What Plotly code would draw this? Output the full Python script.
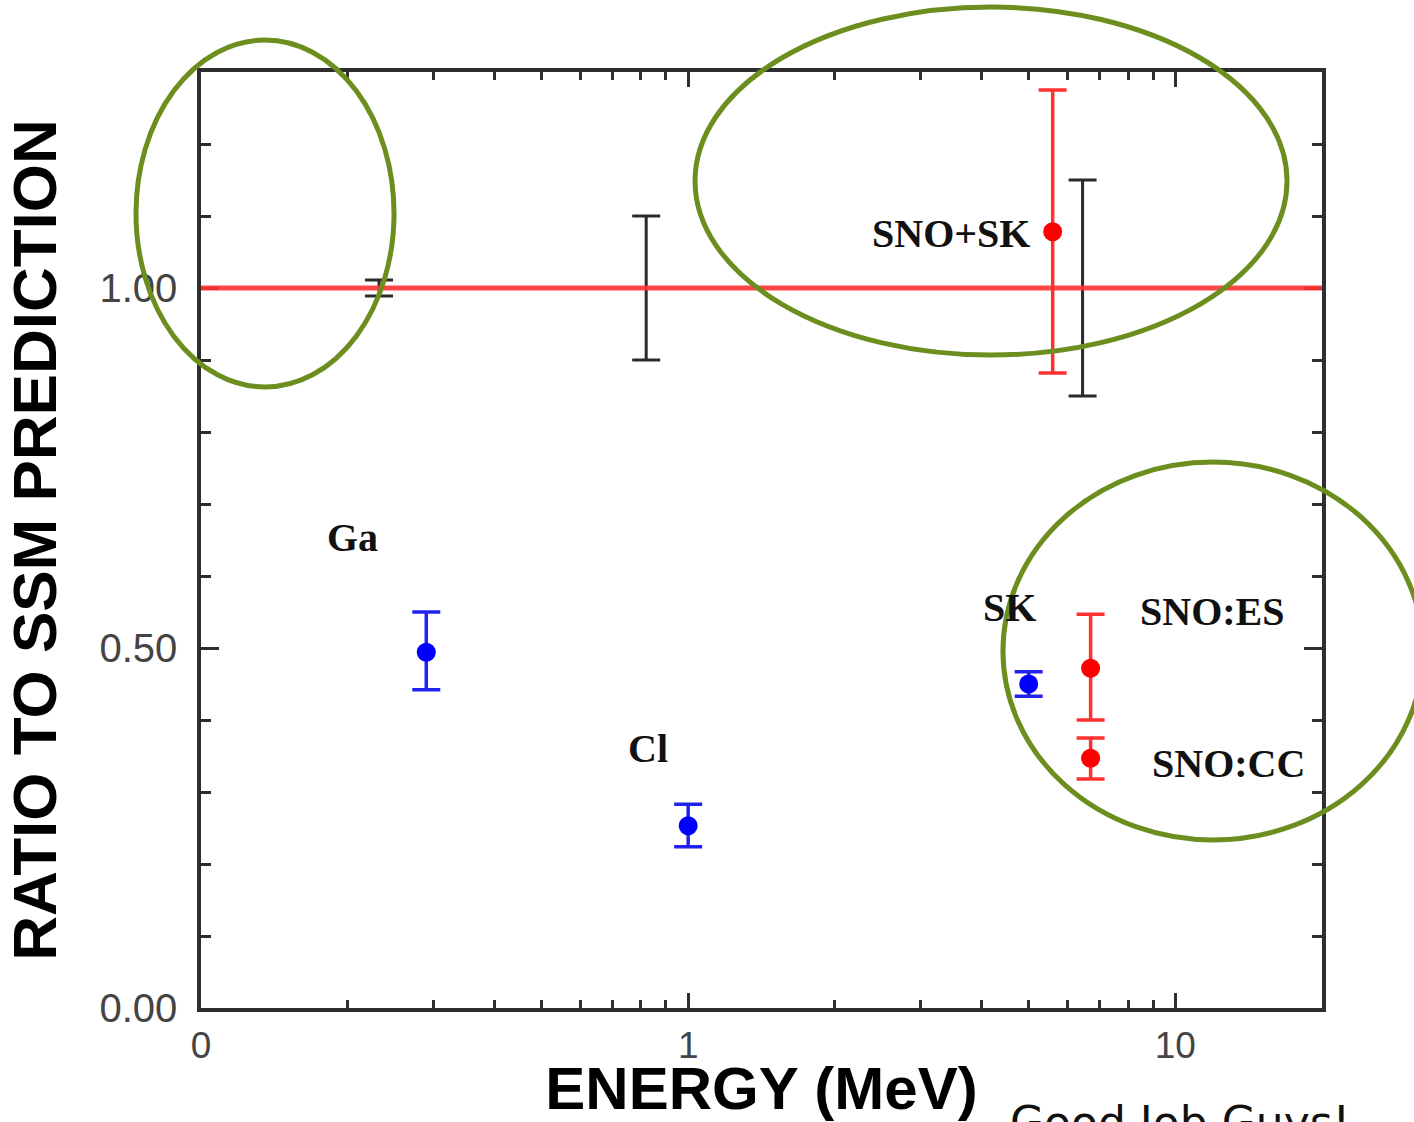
import numpy as np
import plotly.graph_objects as go

# ---- data ----
exp_names = ["Ga", "Cl", "SK"]
exp_energy = [0.29, 1.0, 5.0]
exp_ratio = [0.494, 0.253, 0.450]
exp_err_plus = [0.056, 0.030, 0.017]
exp_err_minus = [0.052, 0.029, 0.017]

sno_names = ["SNO+SK", "SNO:ES", "SNO:CC"]
sno_energy = [5.6, 6.7, 6.7]
sno_ratio = [1.078, 0.472, 0.347]
sno_err_plus = [0.197, 0.075, 0.028]
sno_err_minus = [0.196, 0.072, 0.029]

ssm_energy = [0.232, 0.82, 6.45]
ssm_ratio = [1.0, 1.0, 1.0]
ssm_err = [0.011, 0.10, 0.15]

x_tickvals = [0.1, 1, 10]
x_ticktext = ["0", "1", "10"]
x_minor_vals = [0.2, 0.3, 0.4, 0.5, 0.6, 0.7, 0.8, 0.9,
                2, 3, 4, 5, 6, 7, 8, 9]
y_tickvals = [0.0, 0.5, 1.0]
y_ticktext = ["0.00", "0.50", "1.00"]

# label anchors (energy, ratio)
label_text = ["Ga", "Cl", "SK", "SNO:ES", "SNO:CC", "SNO+SK"]
label_pos = [(0.205, 0.654), (0.828, 0.361), (4.56, 0.556), (11.9, 0.551), (12.85, 0.340), (3.47, 1.076)]

fig = go.Figure()

AX = "#2e2e2e"

fig.add_trace(go.Scatter(
    x=ssm_energy, y=ssm_ratio, mode="markers",
    marker=dict(size=1, color="rgba(0,0,0,0)"),
    error_y=dict(type="data", array=ssm_err, color="#2a2a2a", thickness=3, width=14),
    showlegend=False))

fig.add_trace(go.Scatter(
    x=exp_energy, y=exp_ratio, mode="markers",
    marker=dict(size=19, color="#0000ff"),
    error_y=dict(type="data", symmetric=False, array=exp_err_plus, arrayminus=exp_err_minus,
                 color="#2222ee", thickness=3.5, width=14),
    showlegend=False))

fig.add_trace(go.Scatter(
    x=sno_energy, y=sno_ratio, mode="markers",
    marker=dict(size=19, color="#ff0000"),
    error_y=dict(type="data", symmetric=False, array=sno_err_plus, arrayminus=sno_err_minus,
                 color="#ff3030", thickness=3.5, width=14),
    showlegend=False))

fig.add_shape(type="line", xref="paper", yref="y", x0=0, x1=1, y0=1.0, y1=1.0,
              line=dict(color="rgba(255,50,50,0.9)", width=5), layer="above")

for t, (lx, ly) in zip(label_text, label_pos):
    fig.add_annotation(x=np.log10(lx), y=ly, xref="x", yref="y", text="<b>%s</b>" % t,
                       showarrow=False, xanchor="center", yanchor="middle",
                       font=dict(family="Liberation Serif", size=40, color="#111111"))

# highlight ellipses
ell_color = "#6b8e1e"
for x0, x1, y0, y1 in [(-0.058, 0.1722, 0.6635, 1.0342),
                       (0.4407, 0.9688, 0.6976, 1.0694),
                       (0.7154, 1.0901, 0.1795, 0.5833)]:
    fig.add_shape(type="circle", xref="paper", yref="paper", x0=x0, x1=x1, y0=y0, y1=y1,
                  line=dict(color=ell_color, width=5), layer="above")

fig.add_annotation(xref="paper", yref="paper", x=0.7199, y=-0.093, xanchor="left", yanchor="top",
                   text="Good Job Guys!", showarrow=False,
                   font=dict(family="DejaVu Sans", size=44, color="#111111"))

fig.update_layout(
    width=1414, height=1122,
    margin=dict(l=201, r=92, t=72, b=114, autoexpand=False),
    paper_bgcolor="white", plot_bgcolor="white",
    font=dict(family="Liberation Sans"),
)
fig.update_xaxes(
    type="log", range=[-1, np.log10(20)],
    tickvals=x_tickvals, ticktext=x_ticktext,
    ticks="inside", ticklen=15, tickwidth=2.5, tickcolor=AX,
    minor=dict(ticks="inside", ticklen=8, tickwidth=2.5, tickcolor=AX, showgrid=False,
               tickmode="array", tickvals=x_minor_vals),
    showline=True, linecolor=AX, linewidth=3.5, mirror="allticks",
    showgrid=False, zeroline=False, automargin=False,
    tickfont=dict(family="Liberation Sans", size=37, color="#444444"),
    ticklabelstandoff=2,
    title=dict(text="<b>ENERGY (MeV)</b>", font=dict(family="Liberation Sans", size=60, color="#000000"),
               standoff=19),
)
fig.update_yaxes(
    range=[0, 1.3],
    tickvals=y_tickvals, ticktext=y_ticktext,
    ticks="inside", ticklen=18, tickwidth=2.5, tickcolor=AX,
    minor=dict(ticks="inside", ticklen=10, tickwidth=2.5, tickcolor=AX, dtick=0.1, showgrid=False),
    showline=True, linecolor=AX, linewidth=3.5, mirror="allticks",
    showgrid=False, zeroline=False, automargin=False,
    tickfont=dict(family="Liberation Sans", size=40, color="#444444"),
    ticklabelstandoff=12,
    title=dict(text="<b>RATIO TO SSM PREDICTION</b>", font=dict(family="Liberation Sans", size=62, color="#000000"),
               standoff=31),
)

fig.write_html("out.html", config={"displayModeBar": False},
               post_script="document.body.style.margin='0';document.body.style.overflow='hidden';")
